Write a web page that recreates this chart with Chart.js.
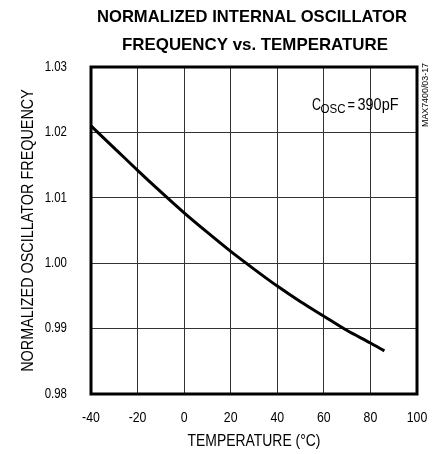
<!DOCTYPE html>
<html>
<head>
<meta charset="utf-8">
<script src="https://cdn.jsdelivr.net/npm/chart.js@4/dist/chart.umd.min.js"></script>
<style>
html,body{margin:0;padding:0;background:#fff;}
#wrap{width:440px;height:454px;}
</style>
</head>
<body>
<div id="wrap"><canvas id="c" width="440" height="454"></canvas></div>
<script>
const temperatures = [-40, -30, -20, -10, 0, 10, 20, 30, 40, 50, 60, 70, 80, 86];
const frequency = [1.0210, 1.0176, 1.0142, 1.0109, 1.0077, 1.0047, 1.0018, 0.9991, 0.9965, 0.9941, 0.9919, 0.9897, 0.9878, 0.9866];
const titleLines = ["NORMALIZED INTERNAL OSCILLATOR", "FREQUENCY vs. TEMPERATURE"];
const xTitle = "TEMPERATURE (°C)";
const yTitle = "NORMALIZED OSCILLATOR FREQUENCY";
const noteParts = ["C", "OSC", "=", "390pF"];
const partCode = "MAX7400/03-17";

const FONT = "'Liberation Sans', Arial, Helvetica, sans-serif";

const canvas = document.getElementById('c');
const cx = canvas.getContext('2d');
const rawFill = cx.fillText.bind(cx);
const condenseFor = t => (t === yTitle ? 0.9 : t === xTitle ? 0.87 : 0.82);
// condensed lettering like the reference typeface
cx.fillText = function (t, x, y) {
  this.save();
  this.translate(x, y);
  this.scale(condenseFor(t), 1);
  rawFill(t, 0, 0);
  this.restore();
};

function fitText(ctx, text, x, y, targetW, align) {
  const w = ctx.measureText(text).width;
  ctx.save();
  ctx.textAlign = align || 'center';
  ctx.translate(x, y);
  ctx.scale(targetW / w, 1);
  rawFill(text, 0, 0);
  ctx.restore();
}

const decor = {
  id: 'decor',
  afterDatasetsDraw(chart) {
    const {ctx, chartArea: a} = chart;
    ctx.save();
    ctx.strokeStyle = '#000';
    ctx.lineWidth = 3;
    ctx.strokeRect(a.left, a.top, a.right - a.left, a.bottom - a.top);
    ctx.restore();
  },
  afterDraw(chart) {
    const {ctx} = chart;
    ctx.save();
    ctx.fillStyle = '#000';
    ctx.textBaseline = 'alphabetic';
    ctx.font = "bold 17px " + FONT;
    fitText(ctx, titleLines[0], 252, 22, 310);
    fitText(ctx, titleLines[1], 255, 50, 266);
    // annotation
    ctx.font = "16px " + FONT;
    fitText(ctx, noteParts[0], 312, 110, 9, 'left');
    ctx.font = "12px " + FONT;
    fitText(ctx, noteParts[1], 320.5, 113, 25, 'left');
    ctx.font = "16px " + FONT;
    fitText(ctx, noteParts[2], 347.5, 110, 7.5, 'left');
    fitText(ctx, noteParts[3], 357.5, 110, 41, 'left');
    // part code
    ctx.font = "9px " + FONT;
    ctx.save();
    ctx.translate(428, 95);
    ctx.rotate(-Math.PI / 2);
    fitText(ctx, partCode, 0, 0, 64);
    ctx.restore();
    ctx.restore();
  }
};

new Chart(canvas, {
  type: 'line',
  data: {
    datasets: [{
      data: temperatures.map((t, i) => ({x: t, y: frequency[i]})),
      borderColor: '#000',
      borderWidth: 3,
      pointRadius: 0,
      fill: false,
      cubicInterpolationMode: 'monotone'
    }]
  },
  options: {
    responsive: false,
    animation: false,
    devicePixelRatio: 1,
    layout: {padding: {top: 67, right: 23, left: 0, bottom: 0}},
    plugins: {legend: {display: false}, tooltip: {enabled: false}},
    scales: {
      x: {
        type: 'linear', min: -40, max: 100,
        afterFit(s) { s.height = 60; s.paddingLeft = 0; s.paddingRight = 0; },
        ticks: {stepSize: 20, color: '#000', padding: 15, font: {family: FONT, size: 15}, maxRotation: 0},
        grid: {color: '#333', lineWidth: 1, drawTicks: false},
        border: {display: false},
        title: {display: true, text: xTitle, color: '#000', font: {family: FONT, size: 16}, padding: {top: 0, bottom: 3}}
      },
      y: {
        min: 0.98, max: 1.03,
        afterFit(s) { s.width = 91; s.paddingTop = 0; s.paddingBottom = 0; },
        ticks: {stepSize: 0.01, color: '#000', padding: 24, font: {family: FONT, size: 14},
          callback: v => v.toFixed(2)},
        grid: {color: '#333', lineWidth: 1, drawTicks: false},
        border: {display: false},
        title: {display: true, text: yTitle, color: '#000', font: {family: FONT, size: 16}, padding: {top: 19, bottom: 0}}
      }
    }
  },
  plugins: [decor]
});
</script>
</body>
</html>
